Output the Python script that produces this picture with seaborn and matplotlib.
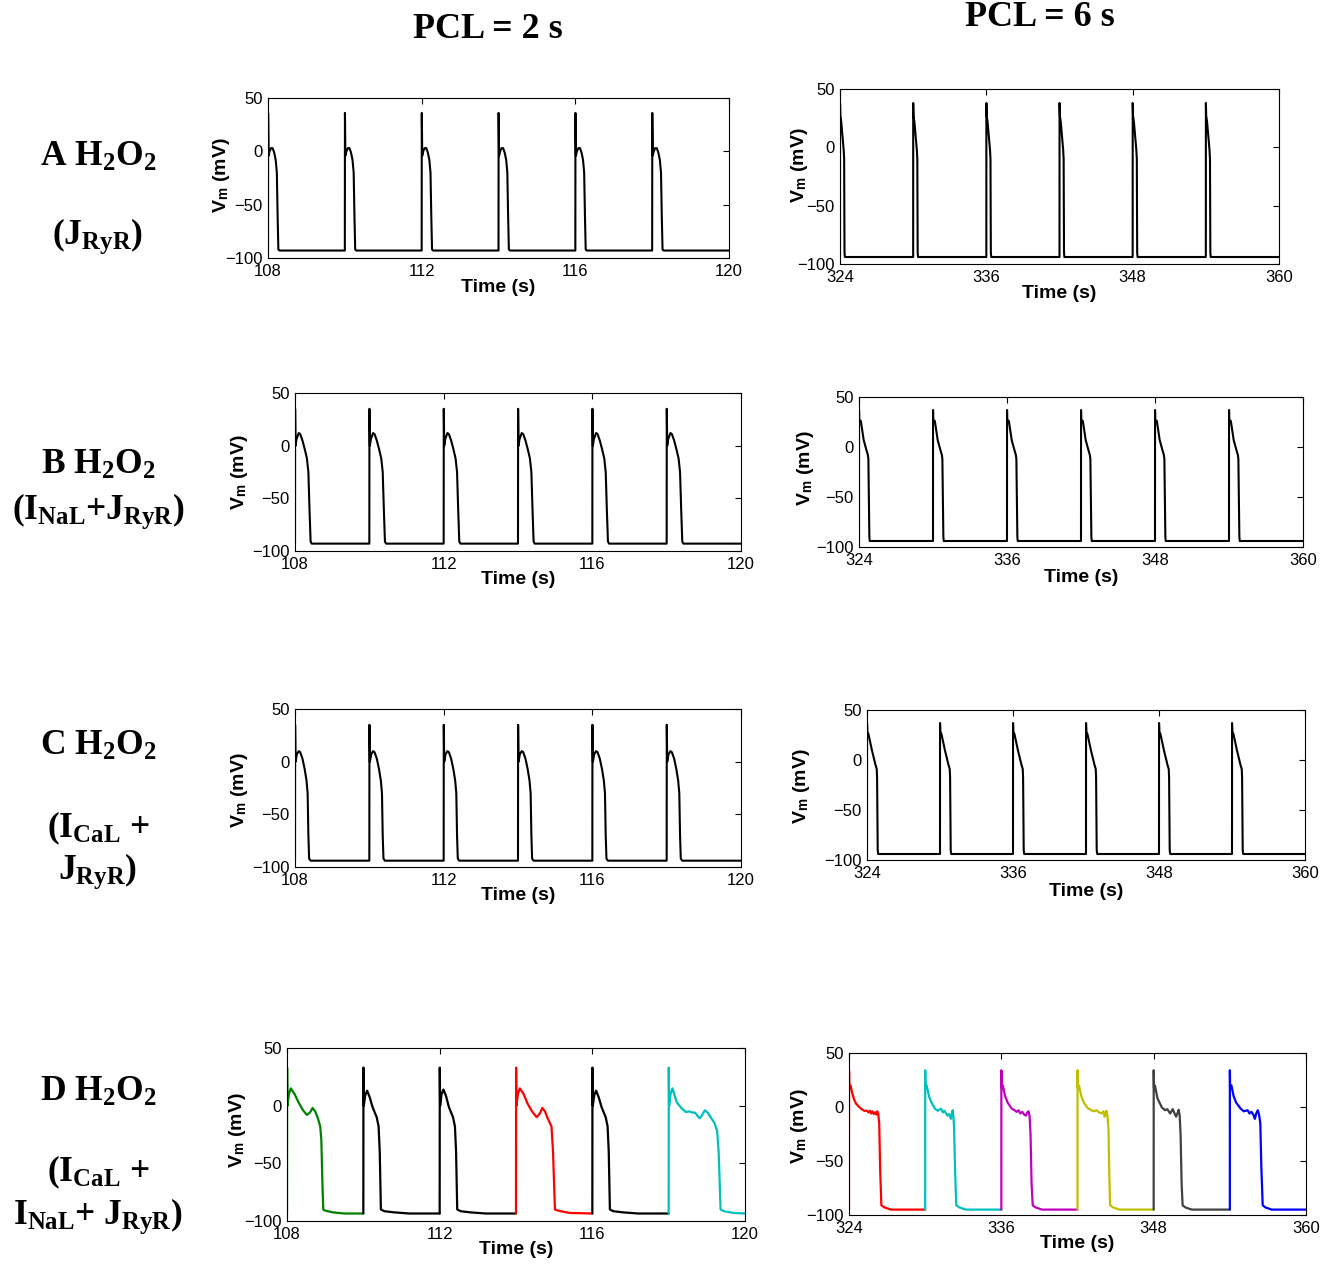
import numpy as np
import pandas as pd
import matplotlib
matplotlib.use("Agg")
import matplotlib.pyplot as plt
import seaborn as sns

# ---------------------------------------------------------------
# Beat onsets (s) for the two pacing cycle lengths
ONSETS_2S = [108, 110, 112, 114, 116, 118]
ONSETS_6S = [324, 330, 336, 342, 348, 354]
XLIM_2S = (108, 120)
XLIM_6S = (324, 360)
XTICKS_2S = [108, 112, 116, 120]
XTICKS_6S = [324, 336, 348, 360]
YTICKS = [-100, -50, 0, 50]

# Action potential keypoints: time after onset (s) and Vm (mV)
# A: H2O2 acting on J_RyR
A2_t = [0, 0.003, 0.015, 0.04, 0.08, 0.12, 0.16, 0.2, 0.23, 0.25, 0.27, 0.3]
A2_v = [-93, 36, -4, 0, 3, 3, -1, -8, -20, -60, -92, -93]
A6_t = [0, 0.004, 0.03, 0.1, 0.2, 0.3, 0.34, 0.37, 0.4]
A6_v = [-94, 38, 27, 22, 10, -2, -10, -90, -94]
# B: H2O2 acting on I_NaL + J_RyR
B2_t = [0, 0.003, 0.015, 0.04, 0.1, 0.14, 0.2, 0.26, 0.32, 0.36, 0.39, 0.42, 0.45]
B2_v = [-93, 35, 0, 6, 12, 11, 5, -3, -12, -25, -60, -91, -93]
B6_t = [0, 0.004, 0.02, 0.15, 0.38, 0.6, 0.72, 0.76, 0.84, 0.87]
B6_v = [-94, 37, 27, 26, 7, -3, -8, -12, -90, -94]
# C: H2O2 acting on I_CaL + J_RyR
C2_t = [0, 0.003, 0.015, 0.05, 0.1, 0.14, 0.2, 0.26, 0.31, 0.34, 0.36, 0.38, 0.42]
C2_v = [-94, 35, 0, 7, 10, 9, 3, -7, -18, -30, -70, -92, -94]
C6_t = [0, 0.004, 0.03, 0.12, 0.4, 0.7, 0.8, 0.83, 0.88, 0.92]
C6_v = [-94, 37, 28, 26, 10, -5, -9, -18, -90, -94]

# D: H2O2 acting on I_CaL + I_NaL + J_RyR, every beat drawn separately
D2_colors = ["#008000", "#000000", "#000000", "#ff0000", "#000000", "#00bfbf"]
D2_b1_t = [0, 0.003, 0.012, 0.05, 0.1, 0.2, 0.3, 0.42, 0.52, 0.6, 0.67, 0.74, 0.81,
           0.87, 0.9, 0.93, 0.95, 1.0, 1.2, 1.5, 2.0]
D2_b1_v = [-93.5, 33, 0, 10, 15, 10, 3, -4, -8, -6, -2, -5, -11,
           -18, -30, -70, -90, -91, -92.5, -93.5, -93.5]
D2_b2_t = [0, 0.003, 0.012, 0.05, 0.1, 0.17, 0.24, 0.3, 0.35, 0.4, 0.43, 0.46, 0.55, 0.8, 1.2, 2.0]
D2_b2_v = [-93.5, 33, 0, 9, 13, 7, -1, -6, -10, -18, -40, -90, -91.5, -92.5, -93.5, -93.5]
D2_b3_t = [0, 0.003, 0.012, 0.05, 0.1, 0.17, 0.24, 0.3, 0.35, 0.4, 0.43, 0.46, 0.55, 0.8, 1.2, 2.0]
D2_b3_v = [-93.5, 33, 0, 10, 14, 8, -1, -6, -10, -18, -40, -90, -91.5, -92.5, -93.5, -93.5]
D2_b4_t = [0, 0.003, 0.012, 0.05, 0.1, 0.2, 0.3, 0.42, 0.54, 0.62, 0.69, 0.76, 0.83,
           0.93, 0.97, 1.02, 1.1, 1.4, 2.0]
D2_b4_v = [-93.5, 33, 0, 10, 15, 10, 2, -5, -10, -7, -2, -5, -11,
           -18, -40, -90, -91, -93, -93.5]
D2_b5_t = [0, 0.003, 0.012, 0.05, 0.1, 0.17, 0.24, 0.3, 0.35, 0.4, 0.43, 0.46, 0.55, 0.8, 1.2, 2.0]
D2_b5_v = [-93.5, 33, 0, 9, 13, 7, -1, -6, -10, -18, -40, -90, -91.5, -92.5, -93.5, -93.5]
D2_b6_t = [0, 0.003, 0.012, 0.05, 0.1, 0.21, 0.33, 0.45, 0.54, 0.62, 0.69, 0.76, 0.81,
           0.86, 0.95, 1.02, 1.1, 1.2, 1.27, 1.31, 1.36, 1.45, 1.7, 2.0]
D2_b6_v = [-93.5, 33, 0, 10, 15, 3, -2, -5.5, -5, -6, -6, -9, -11,
           -9, -4, -6, -10, -15, -22, -40, -90, -91.5, -93, -93.5]

D6_colors = ["#ff0000", "#00bfbf", "#bf00bf", "#bfbf00", "#404040", "#0000ff"]
D6_b1_t = [0, 0.003, 0.02, 0.12, 0.25, 0.4, 0.56, 0.8, 1.0, 1.2, 1.4, 1.55, 1.65, 1.75,
           1.85, 1.95, 2.05, 2.15, 2.22, 2.3, 2.38, 2.46, 2.55, 2.8, 3.3, 6.0]
D6_b1_v = [-95, 34, 18, 20, 13, 7, 3, 0, -2, -3.5, -3.5, -5, -3.5, -6,
           -4, -6.5, -5, -7, -4, -6, -15, -60, -91, -93, -95, -95]
D6_b2_t = [0, 0.003, 0.02, 0.12, 0.3, 0.48, 0.76, 1.0, 1.24, 1.4, 1.52, 1.65, 1.75, 1.88,
           2.03, 2.1, 2.17, 2.23, 2.28, 2.36, 2.45, 2.7, 3.2, 6.0]
D6_b2_v = [-95, 34, 18, 20, 10, 4.5, -1.5, -3.5, -1.5, -5, -3.5, -6, -8, -6.5,
           -11, -6, -3, -9, -20, -60, -91, -93, -95, -95]
D6_b3_t = [0, 0.003, 0.02, 0.12, 0.3, 0.5, 0.82, 1.05, 1.2, 1.35, 1.5, 1.65, 1.8, 1.94,
           2.04, 2.14, 2.22, 2.3, 2.38, 2.47, 2.7, 3.2, 6.0]
D6_b3_v = [-95, 34, 18, 20, 10, 4, -1.5, -3, -4.5, -3, -6, -4.5, -7, -8,
           -5, -4, -8, -25, -70, -91, -93, -95, -95]
D6_b4_t = [0, 0.003, 0.02, 0.12, 0.3, 0.5, 0.8, 1.1, 1.3, 1.5, 1.7, 1.9, 2.05, 2.14,
           2.22, 2.28, 2.36, 2.44, 2.5, 2.57, 2.8, 3.3, 6.0]
D6_b4_v = [-95, 34, 18, 20, 10, 4, -1, -3, -4, -3, -5, -6, -4, -9,
           -6, -3.5, -8, -20, -60, -91, -93, -95, -95]
D6_b5_t = [0, 0.003, 0.02, 0.1, 0.3, 0.65, 0.9, 1.07, 1.3, 1.5, 1.65, 1.77, 1.9, 1.97,
           2.05, 2.12, 2.2, 2.28, 2.5, 3.0, 6.0]
D6_b5_v = [-95, 34, 18, 20, 8, -0.5, -3, -2, -6, -2, -6, -9, -5, -2.5,
           -8, -25, -70, -91, -93, -95, -95]
D6_b6_t = [0, 0.003, 0.02, 0.12, 0.3, 0.5, 0.85, 1.1, 1.4, 1.55, 1.7, 1.85, 1.97, 2.08,
           2.2, 2.3, 2.4, 2.48, 2.59, 2.8, 3.3, 6.0]
D6_b6_v = [-95, 34, 18, 20, 10, 4, -1.5, -4, -3, -6, -4.5, -7, -11, -6,
           -3, -7, -15, -55, -91, -93, -95, -95]

# ---------------------------------------------------------------
sns.set_theme(style="white", rc={"text.color": "black", "axes.labelcolor": "black",
                                 "xtick.color": "black", "ytick.color": "black",
                                 "axes.edgecolor": "black"})
plt.rcParams["font.family"] = ["Liberation Sans", "DejaVu Sans"]
plt.rcParams["mathtext.fontset"] = "custom"
plt.rcParams["mathtext.rm"] = "Liberation Serif:bold"
plt.rcParams["mathtext.it"] = "Liberation Serif:bold"
plt.rcParams["mathtext.bf"] = "Liberation Serif:bold"
plt.rcParams["mathtext.sf"] = "Liberation Sans:bold"
plt.rcParams["axes.unicode_minus"] = True

W, H = 1333, 1264
fig = plt.figure(figsize=(W / 100, H / 100), dpi=100)
fig.patch.set_facecolor("white")


def px_axes(left, top, right, bottom):
    return fig.add_axes([left / W, 1 - bottom / H, (right - left) / W, (bottom - top) / H])


def repeated_trace(onsets, tmpl_t, tmpl_v, end):
    t, v = [], []
    for on in onsets:
        t.extend(on + np.asarray(tmpl_t))
        v.extend(tmpl_v)
    t.append(end)
    v.append(tmpl_v[-1])
    return pd.DataFrame({"time": t, "vm": v})


def style_axes(ax, xlim, xticks, xlab_y, ylab_x, ylab_y):
    ax.set_xlim(*xlim)
    ax.set_ylim(-100, 50)
    ax.set_xticks(xticks)
    ax.set_yticks(YTICKS)
    ax.set_xticklabels([str(x) for x in xticks])
    ax.tick_params(direction="in", top=True, right=True, length=4, width=0.8,
                   labelsize=12, colors="black", pad=4)
    for s in ax.spines.values():
        s.set_visible(True)
        s.set_color("black")
        s.set_linewidth(0.8)
    ax.set_xlabel("Time (s)", fontsize=14, fontweight="bold", color="black")
    ax.set_ylabel(r"V$_{\mathsf{m}}$ (mV)", fontsize=14, fontweight="bold", color="black")
    pos = ax.get_position()
    ax.xaxis.set_label_coords((pos.x0 + pos.x1) / 2, 1 - xlab_y / H,
                              transform=fig.transFigure)
    ax.xaxis.label.set_va("center")
    ax.yaxis.set_label_coords(ylab_x / W, 1 - ylab_y / H, transform=fig.transFigure)
    ax.yaxis.label.set_va("center")
    ax.set_facecolor("white")


# panel boxes in pixels: left, top, right, bottom ; label positions
panels = {
    "A2": dict(box=(268, 98, 729, 258), xl=287, yl=(222, 175)),
    "A6": dict(box=(840, 89, 1279, 264), xl=294, yl=(799, 165)),
    "B2": dict(box=(295, 393, 741, 551), xl=579, yl=(239, 472)),
    "B6": dict(box=(859, 397, 1303, 547), xl=578, yl=(805, 468)),
    "C2": dict(box=(295, 709, 741, 867), xl=895, yl=(239, 790)),
    "C6": dict(box=(867, 710, 1305, 860), xl=892, yl=(801, 786)),
    "D2": dict(box=(287, 1048, 745, 1221), xl=1249, yl=(237, 1130)),
    "D6": dict(box=(849, 1053, 1306, 1215), xl=1243, yl=(799, 1126)),
}

templates = {
    "A2": (A2_t, A2_v), "A6": (A6_t, A6_v),
    "B2": (B2_t, B2_v), "B6": (B6_t, B6_v),
    "C2": (C2_t, C2_v), "C6": (C6_t, C6_v),
}

for key, (tt, vv) in templates.items():
    p = panels[key]
    ax = px_axes(*p["box"])
    is2 = key.endswith("2")
    onsets = ONSETS_2S if is2 else ONSETS_6S
    xlim = XLIM_2S if is2 else XLIM_6S
    df = repeated_trace(onsets, tt, vv, xlim[1])
    sns.lineplot(data=df, x="time", y="vm", sort=False, estimator=None,
                 color="black", linewidth=1.5, ax=ax)
    style_axes(ax, xlim, XTICKS_2S if is2 else XTICKS_6S, p["xl"], *p["yl"])

# colour-coded beats of panel D
D2_beats = [(D2_b1_t, D2_b1_v), (D2_b2_t, D2_b2_v), (D2_b3_t, D2_b3_v),
            (D2_b4_t, D2_b4_v), (D2_b5_t, D2_b5_v), (D2_b6_t, D2_b6_v)]
D6_beats = [(D6_b1_t, D6_b1_v), (D6_b2_t, D6_b2_v), (D6_b3_t, D6_b3_v),
            (D6_b4_t, D6_b4_v), (D6_b5_t, D6_b5_v), (D6_b6_t, D6_b6_v)]

for key, beats, colors, onsets, xlim, xticks in [
        ("D2", D2_beats, D2_colors, ONSETS_2S, XLIM_2S, XTICKS_2S),
        ("D6", D6_beats, D6_colors, ONSETS_6S, XLIM_6S, XTICKS_6S)]:
    p = panels[key]
    ax = px_axes(*p["box"])
    for on, (tt, vv), c in zip(onsets, beats, colors):
        df = pd.DataFrame({"time": on + np.asarray(tt), "vm": vv})
        sns.lineplot(data=df, x="time", y="vm", sort=False, estimator=None,
                     color=c, linewidth=1.6, ax=ax)
    style_axes(ax, xlim, xticks, p["xl"], *p["yl"])

# column titles
serif = ["Liberation Serif", "DejaVu Serif"]
fig.text(488 / W, 1 - 30 / H, "PCL = 2 s", fontsize=26, fontweight="bold",
         family=serif, ha="center", va="center", color="black")
fig.text(1040 / W, 1 - 18 / H, "PCL = 6 s", fontsize=26, fontweight="bold",
         family=serif, ha="center", va="center", color="black")

# row labels
row_labels = [
    (98, 166, r"A H$_2$O$_2$"),
    (98, 244, r"(J$_{\mathrm{RyR}}$)"),
    (98, 474, r"B H$_2$O$_2$"),
    (98, 519, r"(I$_{\mathrm{NaL}}$+J$_{\mathrm{RyR}}$)"),
    (98, 755, r"C H$_2$O$_2$"),
    (98, 837, r"(I$_{\mathrm{CaL}}$ +"),
    (98, 879, r"J$_{\mathrm{RyR}}$)"),
    (98, 1101, r"D H$_2$O$_2$"),
    (98, 1181, r"(I$_{\mathrm{CaL}}$ +"),
    (98, 1224, r"I$_{\mathrm{NaL}}$+ J$_{\mathrm{RyR}}$)"),
]
for x, y, s in row_labels:
    fig.text(x / W, 1 - y / H, s, fontsize=25.5, fontweight="bold", family=serif,
             ha="center", va="baseline", color="black")

fig.savefig("out.png", dpi=100, facecolor="white")
